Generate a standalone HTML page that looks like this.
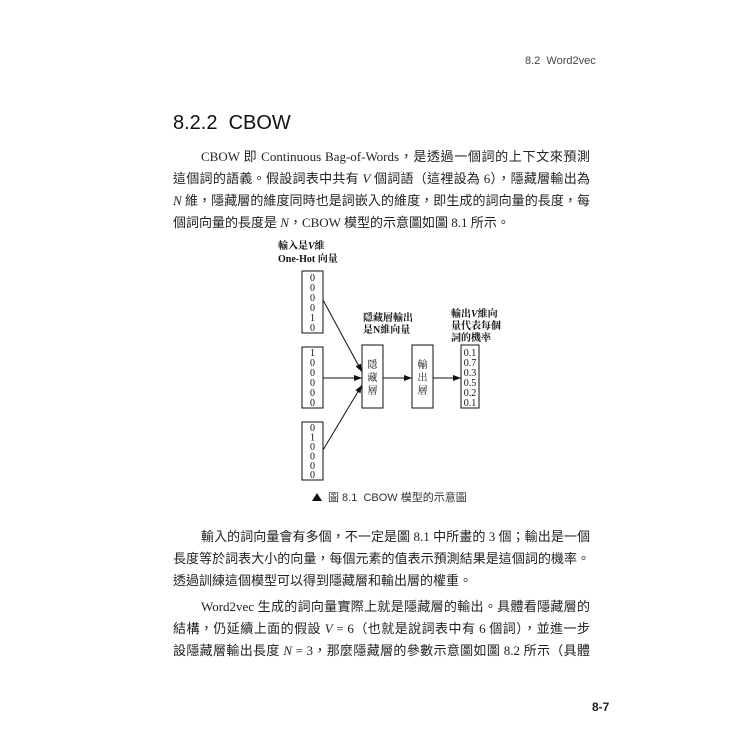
<!DOCTYPE html>
<html><head><meta charset="utf-8">
<style>
body{margin:0;width:750px;height:750px;background:#fff;position:relative;overflow:hidden;font-family:"Liberation Serif","Noto Serif CJK SC","Noto Sans CJK TC",serif;color:#222}
.a{position:absolute;white-space:nowrap}
.ln{position:absolute;left:173px;width:417px;font-size:13px;line-height:20px;text-align:justify;text-align-last:justify;font-family:"Liberation Serif","Noto Sans CJK TC",serif;white-space:nowrap}
.ind{left:201px;width:389px}
i{font-family:"Liberation Serif",serif}
</style></head><body>
<div class="a" style="left:525px;top:55px;font:11px 'Liberation Sans',sans-serif;color:#444">8.2&nbsp; Word2vec</div>
<div class="a" style="left:173px;top:112px;font:20px 'Liberation Sans',sans-serif;color:#111">8.2.2&nbsp; CBOW</div>

<div class="ln ind" style="top:147px">CBOW 即 Continuous Bag-of-Words，是透過一個詞的上下文來預測</div>
<div class="ln" style="top:169px">這個詞的語義。假設詞表中共有 <i>V</i> 個詞語（這裡設為 6），隱藏層輸出為</div>
<div class="ln" style="top:191px"><i>N</i> 維，隱藏層的維度同時也是詞嵌入的維度，即生成的詞向量的長度，每</div>
<div class="ln" style="top:213px;text-align-last:left">個詞向量的長度是 <i>N</i>，CBOW 模型的示意圖如圖 8.1 所示。</div>

<svg class="a" style="left:0;top:0" width="750" height="750" font-family="Liberation Serif,Noto Serif CJK SC,serif" font-size="10" fill="#111">
<defs><marker id="m" markerWidth="8" markerHeight="6" refX="8" refY="3" orient="auto" markerUnits="userSpaceOnUse"><path d="M0,0L8,3L0,6z" fill="#111"/></marker></defs>
<text x="278" y="249" font-weight="bold">輸入是<tspan font-style="italic">V</tspan>維</text>
<text x="278" y="262" font-weight="bold">One-Hot 向量</text>
<g fill="none" stroke="#111" stroke-width="1">
<rect x="302" y="271" width="21" height="62"/>
<rect x="302" y="347" width="21" height="61"/>
<rect x="302" y="422" width="21" height="58"/>
<rect x="362" y="345" width="21" height="63"/>
<rect x="412" y="345" width="21" height="63"/>
<rect x="461" y="345" width="18" height="63"/>
<line x1="323" y1="300" x2="362" y2="372" marker-end="url(#m)"/>
<line x1="323" y1="378" x2="362" y2="378" marker-end="url(#m)"/>
<line x1="323" y1="450" x2="362" y2="385" marker-end="url(#m)"/>
<line x1="383" y1="378" x2="412" y2="378" marker-end="url(#m)"/>
<line x1="433" y1="378" x2="461" y2="378" marker-end="url(#m)"/>
</g>
<g text-anchor="middle">
<text x="312.5" y="281">0</text><text x="312.5" y="291">0</text><text x="312.5" y="301">0</text><text x="312.5" y="311">0</text><text x="312.5" y="321">1</text><text x="312.5" y="331">0</text>
<text x="312.5" y="356">1</text><text x="312.5" y="366">0</text><text x="312.5" y="376">0</text><text x="312.5" y="386">0</text><text x="312.5" y="396">0</text><text x="312.5" y="406">0</text>
<text x="312.5" y="431">0</text><text x="312.5" y="440.5">1</text><text x="312.5" y="450">0</text><text x="312.5" y="459.5">0</text><text x="312.5" y="469">0</text><text x="312.5" y="478">0</text>
<text x="372.5" y="368">隱</text><text x="372.5" y="381">藏</text><text x="372.5" y="394">層</text>
<text x="422.5" y="368">輸</text><text x="422.5" y="381">出</text><text x="422.5" y="394">層</text>
<text x="470" y="356">0.1</text><text x="470" y="366">0.7</text><text x="470" y="376">0.3</text><text x="470" y="386">0.5</text><text x="470" y="396">0.2</text><text x="470" y="406">0.1</text>
</g>
<text x="363" y="321" font-weight="bold">隱藏層輸出</text>
<text x="363" y="333" font-weight="bold">是N維向量</text>
<text x="451" y="317" font-weight="bold">輸出<tspan font-style="italic">V</tspan>維向</text>
<text x="451" y="329" font-weight="bold">量代表每個</text>
<text x="451" y="341" font-weight="bold">詞的機率</text>
<path d="M312,501 L317,493 L322,501z" fill="#111"/>
<text x="328" y="501" font-family="Liberation Sans,Noto Sans CJK TC,sans-serif" font-size="11" fill="#333">圖 8.1&nbsp; CBOW 模型的示意圖</text>
</svg>

<div class="ln ind" style="top:527px">輸入的詞向量會有多個，不一定是圖 8.1 中所畫的 3 個；輸出是一個</div>
<div class="ln" style="top:549px">長度等於詞表大小的向量，每個元素的值表示預測結果是這個詞的機率。</div>
<div class="ln" style="top:571px;text-align-last:left">透過訓練這個模型可以得到隱藏層和輸出層的權重。</div>
<div class="ln ind" style="top:597px">Word2vec 生成的詞向量實際上就是隱藏層的輸出。具體看隱藏層的</div>
<div class="ln" style="top:619px">結構，仍延續上面的假設 <i>V</i> = 6（也就是說詞表中有 6 個詞），並進一步</div>
<div class="ln" style="top:641px">設隱藏層輸出長度 <i>N</i> = 3，那麼隱藏層的參數示意圖如圖 8.2 所示（具體</div>

<div class="a" style="left:592px;top:700px;font:bold 12px 'Liberation Sans',sans-serif;color:#222">8-7</div>
</body></html>
